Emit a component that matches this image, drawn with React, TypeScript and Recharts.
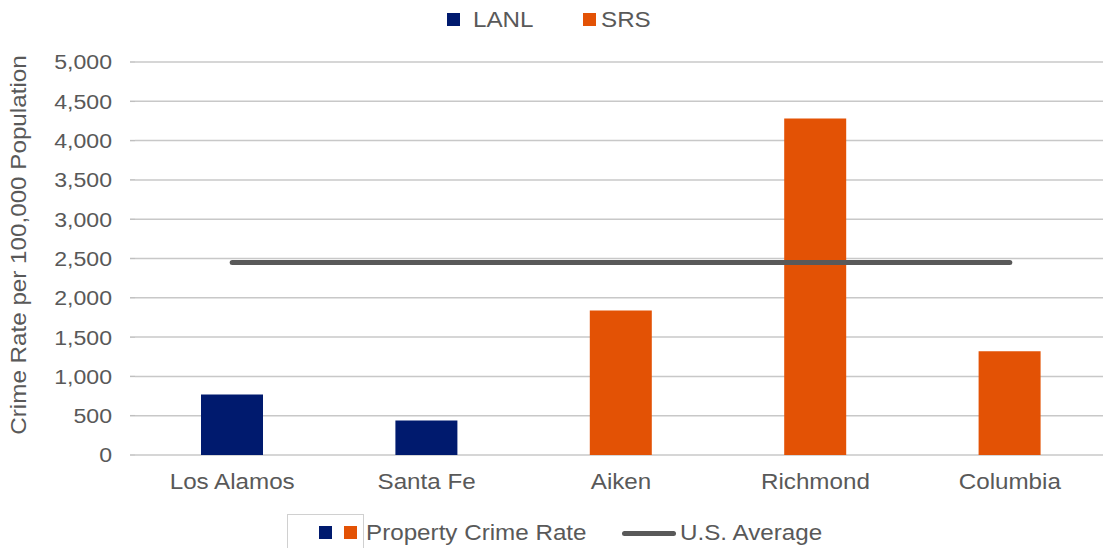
import { ComposedChart, Bar, Line, Cell, XAxis, YAxis, CartesianGrid } from 'recharts';

const sites = ['Los Alamos', 'Santa Fe', 'Aiken', 'Richmond', 'Columbia'];
const siteLab = ['LANL', 'LANL', 'SRS', 'SRS', 'SRS'];
const propertyCrimeRate = [770, 440, 1840, 4280, 1320];
const usAverage = [2450, 2450, 2450, 2450, 2450];
const yTicks = [0, 500, 1000, 1500, 2000, 2500, 3000, 3500, 4000, 4500, 5000];

const labColors: Record<string, string> = { LANL: '#001a6e', SRS: '#e35205' };
const FONT = '"Liberation Sans", Arial, sans-serif';
const TEXT = '#595959';
const STRETCH = 1.1;

const data = sites.map((site, i) => ({
  site,
  lab: siteLab[i],
  rate: propertyCrimeRate[i],
  avg: usAverage[i],
}));

const fmt = (v: number) => v.toLocaleString('en-US');

// the source renders its text a little wider than Liberation Sans
function XTick(props: any) {
  const { x, y, payload } = props;
  return (
    <g transform={`translate(${x},${y})`}>
      <text transform={`scale(${STRETCH},1)`} textAnchor="middle" dy="0.71em" fontSize={22} fill={TEXT} fontFamily={FONT}>
        {payload.value}
      </text>
    </g>
  );
}

function YTick(props: any) {
  const { x, y, payload } = props;
  return (
    <g transform={`translate(${x},${y})`}>
      <text transform={`scale(${STRETCH},1)`} textAnchor="end" dy="0.355em" fontSize={21} fill={TEXT} fontFamily={FONT}>
        {fmt(payload.value)}
      </text>
    </g>
  );
}

function Swatch({ color, left, top }: { color: string; left: number; top: number }) {
  return <div style={{ position: 'absolute', left, top, width: 13, height: 13, background: color }} />;
}

function LegendText({ left, top, children }: { left: number; top: number; children: string }) {
  return (
    <div
      style={{
        position: 'absolute',
        left,
        top,
        fontSize: 22,
        color: TEXT,
        whiteSpace: 'nowrap',
        transform: `scaleX(${STRETCH})`,
        transformOrigin: 'left center',
      }}
    >
      {children}
    </div>
  );
}

export default function App() {
  return (
    <div style={{ position: 'absolute', left: 0, top: 0, width: 1103, height: 548, overflow: 'hidden', background: '#fff', fontFamily: FONT }}>
      <ComposedChart width={1112} height={548} data={data} margin={{ top: 62, right: 5, bottom: 63, left: 60 }}>
        <CartesianGrid vertical={false} stroke="#c8c8c8" strokeWidth={1.5} />
        <XAxis dataKey="site" axisLine={false} tickLine={false} height={30} tickMargin={12} tick={<XTick />} />
        <YAxis
          width={75}
          domain={[0, 5000]}
          ticks={yTicks}
          axisLine={false}
          tickLine={{ stroke: '#bfbfbf', strokeWidth: 1.5 }}
          tickSize={5}
          tickMargin={18}
          tick={<YTick />}
        />
        <Bar dataKey="rate" barSize={62} isAnimationActive={false}>
          {data.map((d) => (
            <Cell key={d.site} fill={labColors[d.lab]} />
          ))}
        </Bar>
        <Line
          dataKey="avg"
          type="linear"
          stroke="#595959"
          strokeWidth={5}
          strokeLinecap="round"
          dot={false}
          isAnimationActive={false}
        />
      </ComposedChart>

      {/* y axis title */}
      <div
        style={{
          position: 'absolute',
          left: 19,
          top: 245,
          transform: `translate(-50%, -50%) rotate(-90deg) scaleX(${STRETCH})`,
          whiteSpace: 'nowrap',
          fontSize: 22,
          color: TEXT,
        }}
      >
        Crime Rate per 100,000 Population
      </div>

      {/* top legend */}
      <Swatch color={labColors.LANL} left={447} top={13} />
      <LegendText left={473} top={7}>LANL</LegendText>
      <Swatch color={labColors.SRS} left={583} top={13} />
      <LegendText left={601} top={7}>SRS</LegendText>

      {/* bottom legend */}
      <div
        style={{
          position: 'absolute',
          left: 287,
          top: 514,
          width: 75,
          height: 40,
          borderLeft: '1px solid #d0d0d0',
          borderTop: '1px solid #d0d0d0',
          borderRight: '1px solid #d0d0d0',
        }}
      />
      <Swatch color={labColors.LANL} left={319} top={526} />
      <Swatch color={labColors.SRS} left={344} top={526} />
      <LegendText left={366} top={520}>Property Crime Rate</LegendText>
      <div style={{ position: 'absolute', left: 622, top: 531, width: 54, height: 5, borderRadius: 3, background: '#595959' }} />
      <LegendText left={680} top={520}>U.S. Average</LegendText>
    </div>
  );
}
